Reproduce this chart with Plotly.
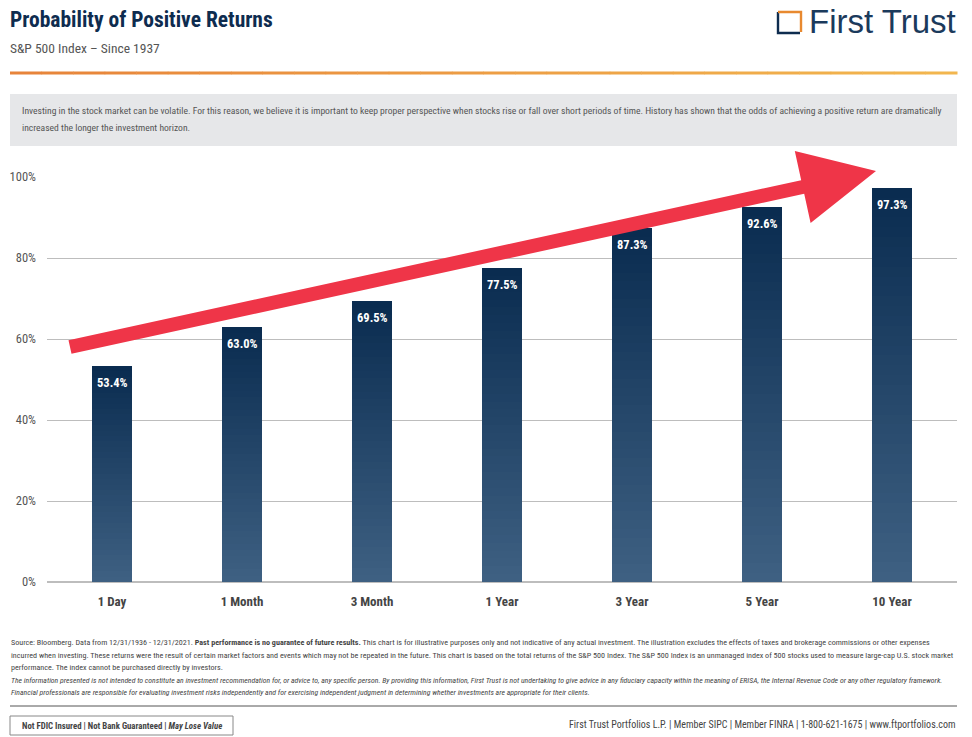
import plotly.graph_objects as go

W, H = 972, 737

categories = ["1 Day", "1 Month", "3 Month", "1 Year", "3 Year", "5 Year", "10 Year"]
values = [53.4, 63.0, 69.5, 77.5, 87.3, 92.6, 97.3]
y_ticks = [0, 20, 40, 60, 80, 100]
y_tick_labels = ["0%", "20%", "40%", "60%", "80%", "100%"]

COND = "Liberation Sans Narrow, Roboto Condensed, DejaVu Sans Condensed, Arial Narrow, sans-serif"
NAVY = "#0E2C4F"


def px(x):
    return x / W


def py(y):
    return 1 - y / H


def lerp_color(c1, c2, t):
    a = [int(c1[i:i + 2], 16) for i in (1, 3, 5)]
    b = [int(c2[i:i + 2], 16) for i in (1, 3, 5)]
    return "#%02x%02x%02x" % tuple(round(a[k] + (b[k] - a[k]) * t) for k in range(3))


fig = go.Figure()

# gradient bars as stacked slices of each bar
N = 40
bottom_col, top_col = "#3E6082", "#0A2C50"
for k in range(N):
    fig.add_trace(go.Bar(
        x=categories, y=[v / N for v in values],
        marker=dict(color=lerp_color(bottom_col, top_col, k / (N - 1)), line=dict(width=0)),
        hoverinfo="skip", showlegend=False,
    ))

annotations = []
for c, v in zip(categories, values):
    annotations.append(dict(x=c, y=v, xref="x", yref="y", text=f"<b>{v:.1f}%</b>",
                            showarrow=False, yanchor="top", yshift=-7,
                            font=dict(family=COND, size=12.5, color="white")))

fig.update_layout(
    barmode="stack", bargap=0.69,
    width=W, height=H, autosize=False, showlegend=False,
    margin=dict(l=0, r=0, t=0, b=0, pad=0, autoexpand=False),
    paper_bgcolor="white", plot_bgcolor="white",
    xaxis=dict(domain=[px(47), px(957)], showgrid=False, showline=False, ticks="",
               automargin=False,
               tickfont=dict(family=COND, size=13, color="#444"),
               tickvals=categories, ticktext=[f"<b>{c}</b>" for c in categories],
               ticklabelstandoff=10),
    yaxis=dict(domain=[py(582), py(177)], range=[0, 100], tickvals=y_ticks,
               ticktext=y_tick_labels, automargin=False,
               showgrid=True, gridcolor="#BDBDBD", gridwidth=1,
               zeroline=True, zerolinecolor="#BDBDBD", zerolinewidth=1.5,
               showline=False, ticks="", ticklabelstandoff=10,
               tickfont=dict(family=COND, size=12.5, color="#555")),
)

shapes = []
# header orange rule (gradient)
segs = 30
x0, x1 = 10, 957
for i in range(segs):
    xa = x0 + (x1 - x0) * i / segs
    xb = x0 + (x1 - x0) * (i + 1) / segs
    shapes.append(dict(type="line", xref="paper", yref="paper", x0=px(xa), x1=px(xb + 0.5),
                       y0=py(73), y1=py(73),
                       line=dict(color=lerp_color("#E7843A", "#F2B64E", i / (segs - 1)), width=3)))
# grey intro box
shapes.append(dict(type="rect", xref="paper", yref="paper", x0=px(10), x1=px(957),
                   y0=py(146), y1=py(94), fillcolor="#E6E7E9", line=dict(width=0), layer="below"))
# logo icon
shapes.append(dict(type="path", xref="paper", yref="paper",
                   path=f"M {px(778)},{py(12)} L {px(778)},{py(33)} L {px(800)},{py(33)}",
                   line=dict(color=NAVY, width=2.4)))
shapes.append(dict(type="path", xref="paper", yref="paper",
                   path=f"M {px(778)},{py(12)} L {px(801)},{py(12)} L {px(801)},{py(32)}",
                   line=dict(color="#E8892F", width=2.4)))
# red arrow
pts = [(68.5, 340.2), (801.2, 180.2), (794.8, 150.9), (876, 171),
       (810.6, 223.1), (804.2, 193.8), (71.5, 353.8)]
path = "M " + " L ".join(f"{px(a)},{py(b)}" for a, b in pts) + " Z"
shapes.append(dict(type="path", xref="paper", yref="paper", path=path,
                   fillcolor="#EF3548", line=dict(width=0), layer="above"))
# footer rule
shapes.append(dict(type="line", xref="paper", yref="paper", x0=px(10), x1=px(957),
                   y0=py(706), y1=py(706), line=dict(color="#555", width=1)))
# FDIC box
shapes.append(dict(type="rect", xref="paper", yref="paper", x0=px(10), x1=px(233),
                   y0=py(735), y1=py(716), line=dict(color="#888", width=1)))


def txt(x, y, s, size, color="#444", xanchor="left", family=COND):
    annotations.append(dict(x=px(x), y=py(y), xref="paper", yref="paper", text=s,
                            showarrow=False, xanchor=xanchor, yanchor="middle",
                            font=dict(family=family, size=size, color=color)))


txt(8, 20, "<b>Probability of Positive Returns</b>", 21.5, NAVY)
txt(8, 48, "S&P 500 Index – Since 1937", 13.5, "#555")
txt(958, 22, "First Trust", 33, "#1B3A5C", xanchor="right",
    family="Liberation Sans, Arial, sans-serif")

txt(20, 111, "Investing in the stock market can be volatile. For this reason, we believe it is important to keep proper perspective when stocks rise or fall over short periods of time. History has shown that the odds of achieving a positive return are dramatically", 9.6, "#555")
txt(20, 127, "increased the longer the investment horizon.", 9.6, "#555")

FS = 8.1
txt(9, 642, "Source: Bloomberg. Data from 12/31/1936 - 12/31/2021. <b>Past performance is no guarantee of future results.</b> This chart is for illustrative purposes only and not indicative of any actual investment. The illustration excludes the effects of taxes and brokerage commissions or other expenses", FS)
txt(9, 655, "incurred when investing. These returns were the result of certain market factors and events which may not be repeated in the future. This chart is based on the total returns of the S&P 500 Index. The S&P 500 Index is an unmanaged index of 500 stocks used to measure large-cap U.S. stock market", FS)
txt(9, 667, "performance. The index cannot be purchased directly by investors.", FS)
txt(9, 680, "<i>The information presented is not intended to constitute an investment recommendation for, or advice to, any specific person. By providing this information, First Trust is not undertaking to give advice in any fiduciary capacity within the meaning of ERISA, the Internal Revenue Code or any other regulatory framework.</i>", 7.75)
txt(9, 692, "<i>Financial professionals are responsible for evaluating investment risks independently and for exercising independent judgment in determining whether investments are appropriate for their clients.</i>", 7.75)

txt(121.5, 725.5, "<b>Not FDIC Insured | Not Bank Guaranteed | <i>May Lose Value</i></b>", 8.8, "#444", xanchor="center")
txt(958, 724, "First Trust Portfolios L.P. | Member SIPC | Member FINRA | 1-800-621-1675 | www.ftportfolios.com", 10, "#444", xanchor="right")

fig.update_layout(shapes=shapes, annotations=annotations)
fig.write_html("out.html")
